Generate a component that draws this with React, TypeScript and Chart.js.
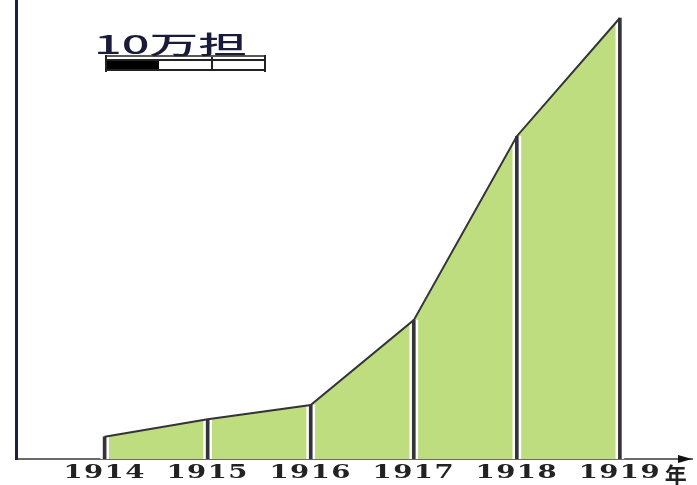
import React, { useEffect, useRef } from "react";
import { Chart, registerables } from "chart.js";

Chart.register(...registerables);

// Data (values in 万担)
const years = [1914, 1915, 1916, 1917, 1918, 1919];
const values = [42, 75, 102, 262, 609, 832];
const tickLabels = ["1914", "1915", "1916", "1917", "1918", "1919"];
const unitLabel = "10万担";
const unitValue = 100; // 10万担 = 100 万担
const xAxisUnit = "年";

const FILL = "#bedd7f";
const LINE = "#333338";
const AXIS_Y = "#1e1e46";
const AXIS_X = "#6a6a6a";

const decorPlugin = {
  id: "decor",
  afterDraw(chart: any) {
    const { ctx, chartArea, scales } = chart;
    const xs = scales.x;
    const ys = scales.y;
    ctx.save();
    // x-axis arrow head
    const yb = chartArea.bottom;
    const tip = chartArea.right;
    ctx.fillStyle = "#111";
    ctx.beginPath();
    ctx.moveTo(tip, yb);
    ctx.lineTo(tip - 14, yb - 4);
    ctx.lineTo(tip - 14, yb + 4);
    ctx.closePath();
    ctx.fill();

    // tick labels (wide bold serif digits)
    ctx.fillStyle = "#222";
    ctx.font = 'bold 19px "DejaVu Serif"';
    (ctx as any).letterSpacing = "1px";
    ctx.textAlign = "center";
    ctx.textBaseline = "middle";
    years.forEach((yr, i) => {
      const px = xs.getPixelForValue(yr);
      ctx.save();
      ctx.translate(px, yb + 14);
      ctx.scale(1.45, 1);
      ctx.fillText(tickLabels[i], 0, 0);
      ctx.restore();
    });
    (ctx as any).letterSpacing = "0px";
    ctx.textAlign = "left";
    ctx.font = 'bold 22px "Noto Sans CJK SC"';
    const lastPx = xs.getPixelForValue(years[years.length - 1]);
    ctx.fillText(xAxisUnit, lastPx + 45, yb + 16);

    // unit legend
    const seg = ys.getPixelForValue(0) - ys.getPixelForValue(unitValue);
    const L = 106;
    ctx.save();
    ctx.translate(94, 44);
    ctx.scale(1.95, 1);
    ctx.fillStyle = "#1a1a3a";
    ctx.font = '500 25px "Noto Sans CJK SC"';
    ctx.textAlign = "left";
    ctx.textBaseline = "middle";
    ctx.fillText(unitLabel, 0, 0);
    ctx.restore();

    ctx.strokeStyle = "#222";
    ctx.lineWidth = 1.5;
    ctx.beginPath();
    ctx.moveTo(L - 1, 56);
    ctx.lineTo(L + 3 * seg + 1, 56);
    ctx.stroke();
    ctx.fillStyle = "#000";
    ctx.fillRect(L, 60, seg, 10);
    ctx.lineWidth = 2;
    ctx.strokeRect(L, 60, 3 * seg, 10);
    ctx.beginPath();
    ctx.moveTo(L + 2 * seg, 57);
    ctx.lineTo(L + 2 * seg, 71);
    ctx.moveTo(L, 55);
    ctx.lineTo(L, 72);
    ctx.moveTo(L + 3 * seg, 55);
    ctx.lineTo(L + 3 * seg, 72);
    ctx.stroke();
    ctx.restore();
  },
};

export default function App() {
  const ref = useRef<HTMLCanvasElement>(null);
  useEffect(() => {
    if (!ref.current) return;
    const pts = years.map((x, i) => ({ x, y: values[i] }));
    const chart = new Chart(ref.current, {
      data: {
        datasets: [
          {
            type: "line",
            data: pts,
            borderColor: LINE,
            borderWidth: 2,
            backgroundColor: FILL,
            fill: "origin",
            pointRadius: 0,
            tension: 0,
            order: 0,
          },
          {
            type: "bar",
            data: pts,
            backgroundColor: LINE,
            barThickness: 3,
            grouped: false,
            order: 1,
          },
          {
            type: "bar",
            data: pts,
            backgroundColor: "#ffffff",
            barThickness: 8,
            grouped: false,
            order: 2,
          },
        ] as any,
      },
      options: {
        animation: false,
        responsive: false,
        devicePixelRatio: 1,
        layout: { padding: { left: 16, right: 5, top: 0, bottom: 26 } },
        plugins: {
          legend: { display: false },
          tooltip: { enabled: false },
          title: { display: false },
          filler: { drawTime: "beforeDatasetsDraw" } as any,
        },
        scales: {
          x: {
            type: "linear",
            offset: false,
            min: 1913.14,
            max: 1919.7,
            grid: { display: false, drawTicks: false },
            ticks: { display: false },
            border: { display: true, color: AXIS_X, width: 2 },
          },
          y: {
            type: "linear",
            min: 0,
            max: 866,
            grid: { display: false, drawTicks: false },
            ticks: { display: false },
            border: { display: true, color: AXIS_Y, width: 3 },
          },
        },
      },
      plugins: [decorPlugin],
    });
    return () => chart.destroy();
  }, []);
  return (
    <div style={{ position: "absolute", left: 0, top: 0, width: 697, height: 485 }}>
      <canvas ref={ref} width={697} height={485} style={{ display: "block" }} />
    </div>
  );
}
